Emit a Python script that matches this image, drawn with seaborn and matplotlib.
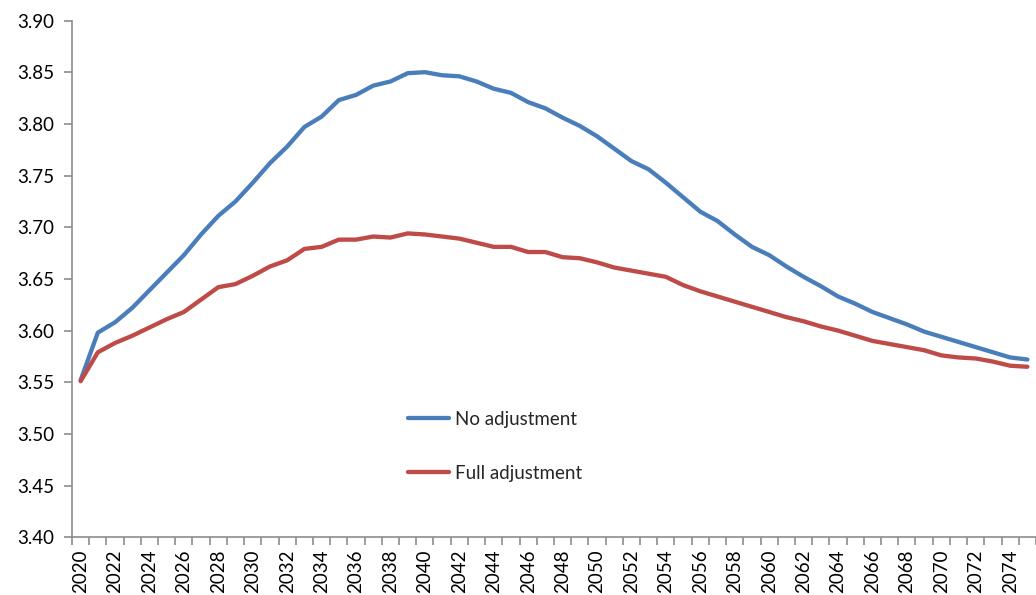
import numpy as np
import pandas as pd
import matplotlib
matplotlib.use("Agg")
import matplotlib.pyplot as plt
import seaborn as sns

# values
years = list(range(2020, 2076))
no_adjustment = [
    3.552, 3.598, 3.608, 3.622, 3.639, 3.656, 3.673, 3.693, 3.711, 3.725,
    3.743, 3.762, 3.778, 3.797, 3.807, 3.823, 3.828, 3.837, 3.841, 3.849,
    3.850, 3.847, 3.846, 3.841, 3.834, 3.830, 3.821, 3.815, 3.806, 3.798,
    3.788, 3.776, 3.764, 3.756, 3.743, 3.729, 3.715, 3.706, 3.693, 3.681,
    3.673, 3.662, 3.652, 3.643, 3.633, 3.626, 3.618, 3.612, 3.606, 3.599,
    3.594, 3.589, 3.584, 3.579, 3.574, 3.572,
]
full_adjustment = [
    3.551, 3.579, 3.588, 3.595, 3.603, 3.611, 3.618, 3.630, 3.642, 3.645,
    3.653, 3.662, 3.668, 3.679, 3.681, 3.688, 3.688, 3.691, 3.690, 3.694,
    3.693, 3.691, 3.689, 3.685, 3.681, 3.681, 3.676, 3.676, 3.671, 3.670,
    3.666, 3.661, 3.658, 3.655, 3.652, 3.644, 3.638, 3.633, 3.628, 3.623,
    3.618, 3.613, 3.609, 3.604, 3.600, 3.595, 3.590, 3.587, 3.584, 3.581,
    3.576, 3.574, 3.573, 3.570, 3.566, 3.565,
]
series_names = ["No adjustment", "Full adjustment"]
series_colors = ["#4A7EBB", "#BE4B48"]
y_ticks = [3.40, 3.45, 3.50, 3.55, 3.60, 3.65, 3.70, 3.75, 3.80, 3.85, 3.90]

df = pd.DataFrame({
    "year": years * 2,
    "value": no_adjustment + full_adjustment,
    "series": [series_names[0]] * len(years) + [series_names[1]] * len(years),
})

sns.set_theme(style="white")
plt.rcParams["font.family"] = ["Lato", "DejaVu Sans"]

fig = plt.figure(figsize=(10.36, 5.95), dpi=100)
ax = fig.add_axes([72 / 1036, 1 - 537.3 / 595, 1 - 72 / 1036, (537.3 - 20.5) / 595])

sns.lineplot(data=df, x="year", y="value", hue="series", hue_order=series_names,
             palette=series_colors, linewidth=3.1, ax=ax, legend=False)

ax.set_xlim(2019.5, 2019.5 + (1036 - 72) / 17.4)
ax.set_ylim(3.40, 3.90)
ax.set_yticks(y_ticks)
ax.set_yticklabels([f"{v:.2f}" for v in y_ticks])
ax.set_xticks(list(range(2020, 2076, 2)))
ax.set_xticklabels([str(y) for y in range(2020, 2076, 2)], rotation=90)
ax.set_xticks(np.arange(2019.5, 2076, 1.0), minor=True)
ax.set_xlabel("")
ax.set_ylabel("")

for side in ["top", "right"]:
    ax.spines[side].set_visible(False)
for side in ["left", "bottom"]:
    ax.spines[side].set_color("#8c8c8c")
    ax.spines[side].set_linewidth(1.2)

ax.tick_params(axis="y", which="major", direction="out", length=5.5, width=1.2,
               color="#8c8c8c", labelsize=13.5, labelcolor="black", pad=7, left=True)
ax.tick_params(axis="x", which="major", length=0, labelsize=13.5, labelcolor="black", pad=8.5)
ax.tick_params(axis="x", which="minor", direction="out", length=5.5, width=1.2,
               color="#8c8c8c", bottom=True)

handles = [plt.Line2D([], [], color=c, linewidth=3.1) for c in series_colors]
fig.legend(handles, series_names, loc="upper left",
           bbox_to_anchor=(408 / 1036, 1 - 411 / 595), frameon=False,
           fontsize=13.5, handlelength=2.2, handletextpad=0.3,
           labelspacing=1.95, borderpad=0, borderaxespad=0)

fig.savefig("out.png", dpi=100)
